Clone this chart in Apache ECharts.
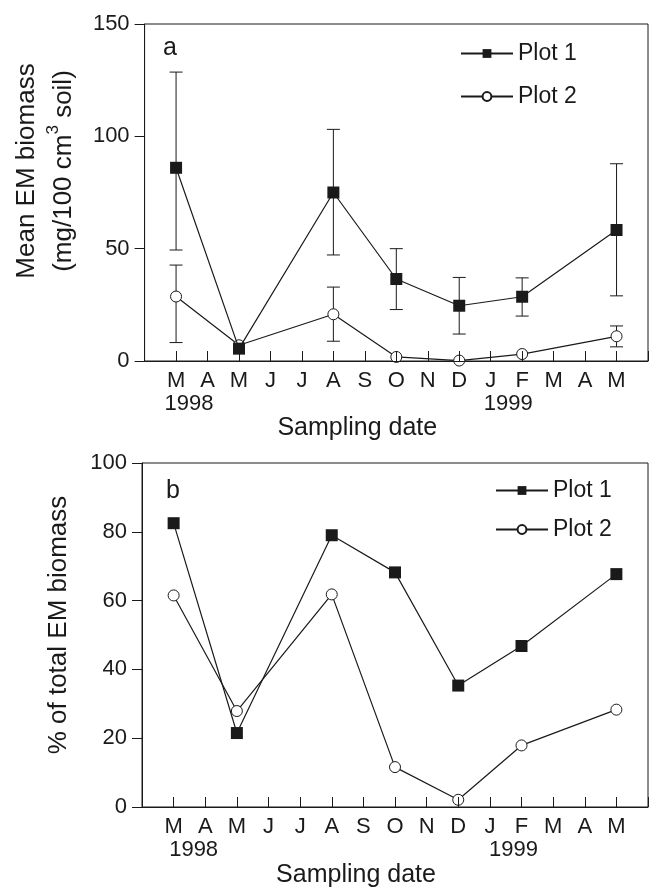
<!DOCTYPE html>
<html>
<head>
<meta charset="utf-8">
<script src="https://cdn.jsdelivr.net/npm/echarts@6/dist/echarts.min.js"></script>
<style>
  html, body { margin: 0; padding: 0; background: #fff; }
  #chart { width: 651px; height: 892px; }
</style>
</head>
<body>
<div id="chart"></div>
<script>
// month ticks, March 1998 .. May 1999
var months = ['M', 'A', 'M', 'J', 'J', 'A', 'S', 'O', 'N', 'D', 'J', 'F', 'M', 'A', 'M'];
// sampling dates as month index
var sampleIdx = [0, 2, 5, 7, 9, 11, 14];

// panel a: mean EM biomass
var plot1Mean = [86, 5.5, 75, 36.5, 24.6, 28.6, 58.3];
var plot1Low  = [49.4, 5.5, 47.2, 22.9, 12, 20, 29];
var plot1High = [128.6, 5.5, 103.1, 50, 37.2, 37, 87.8];
var plot2Mean = [28.7, 7, 20.8, 1.8, 0.2, 3.1, 11];
var plot2Low  = [8.2, 7, 8.8, 1.8, 0.2, 3.1, 6.3];
var plot2High = [42.7, 7, 32.9, 1.8, 0.2, 3.1, 15.6];

// panel b: % of total EM biomass
var plot1Pct = [82.5, 21.5, 79.0, 68.2, 35.3, 46.8, 67.7];
var plot2Pct = [61.5, 27.9, 61.8, 11.6, 2.1, 17.9, 28.3];

var ink = '#1a1a1a';
var font = 'Liberation Sans, Arial, Helvetica, sans-serif';

function pairs(vals) {
    return sampleIdx.map(function (x, i) { return [x, vals[i]]; });
}
function errData(lo, hi) {
    var out = [];
    sampleIdx.forEach(function (x, i) {
        if (hi[i] > lo[i]) out.push([x, lo[i], hi[i]]);
    });
    return out;
}

function renderErr(params, api) {
    var x = api.value(0);
    var lo = api.coord([x, api.value(1)]);
    var hi = api.coord([x, api.value(2)]);
    var w = 6.5;
    var st = { stroke: ink, lineWidth: 1 };
    return {
        type: 'group',
        children: [
            { type: 'line', shape: { x1: lo[0], y1: lo[1], x2: hi[0], y2: hi[1] }, style: st },
            { type: 'line', shape: { x1: lo[0] - w, y1: lo[1], x2: lo[0] + w, y2: lo[1] }, style: st },
            { type: 'line', shape: { x1: hi[0] - w, y1: hi[1], x2: hi[0] + w, y2: hi[1] }, style: st }
        ]
    };
}

function xAxisFor(gridIndex, y98pad, y99pad) {
    return {
        gridIndex: gridIndex,
        type: 'value',
        min: -1,
        max: 15,
        interval: 1,
        z: 5,
        name: 'Sampling date',
        nameLocation: 'middle',
        nameGap: gridIndex === 0 ? 45 : 56,
        nameTextStyle: { color: ink, fontSize: 25, fontFamily: font, padding: [0, 78, 0, 0] },
        axisLine: { onZero: false, lineStyle: { color: ink, width: 1 } },
        axisTick: { inside: true, length: 10, lineStyle: { color: ink, width: 1 } },
        splitLine: { show: false },
        axisLabel: {
            color: ink,
            fontSize: 22,
            fontFamily: font,
            margin: 8,
            lineHeight: 23,
            showMinLabel: true,
            showMaxLabel: true,
            formatter: function (v) {
                var m = months[v];
                if (m === undefined) return '';
                if (v === 0) return m + '\n{y98|1998}';
                if (v === 11) return m + '\n{y99|1999}';
                return m;
            },
            rich: {
                y98: { fontSize: 22, fontFamily: font, color: ink, lineHeight: 23, padding: [0, 0, 0, y98pad] },
                y99: { fontSize: 22, fontFamily: font, color: ink, lineHeight: 23, padding: [0, y99pad, 0, 0] }
            }
        }
    };
}

function yAxisFor(gridIndex, max, interval, name, nameGap, shift, lineHeight) {
    return {
        gridIndex: gridIndex,
        type: 'value',
        min: 0,
        max: max,
        interval: interval,
        name: name,
        nameLocation: 'middle',
        nameGap: nameGap,
        nameTextStyle: {
            color: ink, fontSize: 26, fontFamily: font, lineHeight: lineHeight,
            padding: [0, 0, 0, shift],
            rich: {
                sup: { fontSize: 17, fontFamily: font, color: ink, lineHeight: 22, verticalAlign: 'top' }
            }
        },
        axisLine: { show: true, onZero: false, lineStyle: { color: ink, width: 1 } },
        axisTick: { show: true, length: 10, lineStyle: { color: ink, width: 1 } },
        splitLine: { show: false },
        axisLabel: { color: ink, fontSize: 22, fontFamily: font, margin: 15 }
    };
}

function lineSeries(name, idx, vals, filled) {
    return {
        name: name,
        type: 'line',
        xAxisIndex: idx,
        yAxisIndex: idx,
        data: pairs(vals),
        symbol: filled ? 'rect' : 'circle',
        symbolSize: filled ? 12 : 11,
        z: filled ? 4 : 3,
        lineStyle: { color: ink, width: 1.2 },
        itemStyle: filled ? { color: ink } : { color: '#fff', borderColor: ink, borderWidth: 1 },
        emphasis: { disabled: true }
    };
}

function errSeries(idx, lo, hi) {
    return {
        name: 'err',
        type: 'custom',
        xAxisIndex: idx,
        yAxisIndex: idx,
        z: 1,
        renderItem: renderErr,
        data: errData(lo, hi)
    };
}

var chart = echarts.init(document.getElementById('chart'));
chart.setOption({
    animation: false,
    backgroundColor: '#fff',
    title: [
        { text: 'a', left: 158, top: 31, textStyle: { color: ink, fontSize: 25, fontWeight: 'normal', fontFamily: font } },
        { text: 'b', left: 161, top: 474, textStyle: { color: ink, fontSize: 25, fontWeight: 'normal', fontFamily: font } }
    ],
    legend: [
        {
            data: ['Plot 1', 'Plot 2'],
            orient: 'vertical',
            left: 455,
            top: 37,
            itemWidth: 52,
            itemHeight: 11,
            itemGap: 20,
            selectedMode: false,
            textStyle: { color: ink, fontSize: 23, fontFamily: font }
        },
        {
            data: ['Plot 1', 'Plot 2'],
            orient: 'vertical',
            left: 490,
            top: 474,
            itemWidth: 52,
            itemHeight: 11,
            itemGap: 16,
            selectedMode: false,
            textStyle: { color: ink, fontSize: 23, fontFamily: font }
        }
    ],
    grid: [
        { left: 142, right: 3, top: 24, height: 337, show: true, borderColor: ink, borderWidth: 1, backgroundColor: 'transparent' },
        { left: 142, right: 3, top: 463, height: 344, show: true, borderColor: ink, borderWidth: 1, backgroundColor: 'transparent' }
    ],
    xAxis: [xAxisFor(0, 26, 28), xAxisFor(1, 40, 16)],
    yAxis: [
        yAxisFor(0, 150, 50, 'Mean EM biomass\n(mg/100 cm{sup|3} soil)', 60, 43, 37),
        yAxisFor(1, 100, 20, '% of total EM biomass', 70, 20, 26)
    ],
    series: [
        errSeries(0, plot1Low, plot1High),
        errSeries(0, plot2Low, plot2High),
        lineSeries('Plot 2', 0, plot2Mean, false),
        lineSeries('Plot 1', 0, plot1Mean, true),
        lineSeries('Plot 2', 1, plot2Pct, false),
        lineSeries('Plot 1', 1, plot1Pct, true)
    ]
});
</script>
</body>
</html>
